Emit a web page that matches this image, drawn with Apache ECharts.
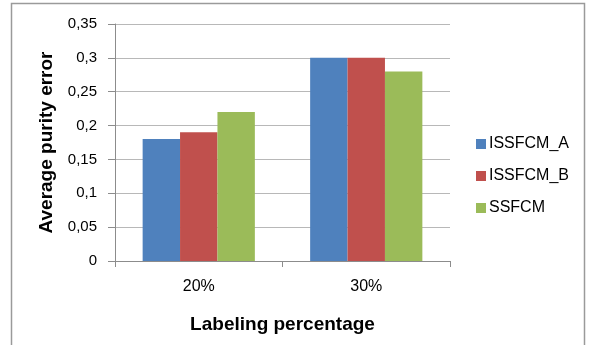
<!DOCTYPE html>
<html>
<head>
<meta charset="utf-8">
<script src="https://cdn.jsdelivr.net/npm/echarts@6/dist/echarts.min.js"></script>
<style>html,body{margin:0;padding:0;background:#fff;}#c{width:589px;height:345px;}</style>
</head>
<body>
<div id="c"></div>
<script>
var categories = ['20%', '30%'];
var seriesNames = ['ISSFCM_A', 'ISSFCM_B', 'SSFCM'];
var issfcmA = [0.18, 0.30];
var issfcmB = [0.19, 0.30];
var ssfcm = [0.22, 0.28];
var colors = ['#4F81BD', '#C0504D', '#9BBB59'];
var font = 'Liberation Sans';

var chart = echarts.init(document.getElementById('c'), null, {renderer: 'canvas'});
chart.setOption({
  animation: false,
  backgroundColor: '#fff',
  graphic: [{
    type: 'polyline',
    shape: {points: [[11.5, 360], [11.5, 3.5], [584.5, 3.5], [584.5, 360]]},
    style: {stroke: '#9a9a9a', lineWidth: 1.5, fill: null}
  }],
  grid: {left: 115, right: 139, top: 24, bottom: 84},
  legend: {
    orient: 'vertical',
    left: 476, top: 136,
    padding: 0,
    itemWidth: 10, itemHeight: 10, itemGap: 16,
    icon: 'rect',
    textStyle: {fontFamily: font, fontSize: 16, color: '#000', padding: [0, 0, 0, -2]},
    data: seriesNames
  },
  xAxis: {
    type: 'category',
    data: categories,
    name: 'Labeling percentage',
    nameLocation: 'middle',
    nameGap: 54,
    nameTextStyle: {fontFamily: font, fontSize: 19, fontWeight: 'bold', color: '#000'},
    axisLine: {lineStyle: {color: '#8c8c8c'}},
    axisTick: {show: true, length: 6, lineStyle: {color: '#8c8c8c'}},
    axisLabel: {fontFamily: font, fontSize: 16, color: '#000', margin: 18}
  },
  yAxis: {
    type: 'value',
    min: 0, max: 0.35, interval: 0.05,
    name: 'Average purity error',
    nameLocation: 'middle',
    nameGap: 59,
    nameTextStyle: {fontFamily: font, fontSize: 19, fontWeight: 'bold', color: '#000'},
    axisLine: {show: true, lineStyle: {color: '#8c8c8c'}},
    axisTick: {show: true, length: 7, lineStyle: {color: '#8c8c8c'}},
    axisLabel: {fontFamily: font, fontSize: 15, color: '#000', margin: 18,
      formatter: function (v) { return String(Math.round(v * 100) / 100).replace('.', ','); }},
    splitLine: {lineStyle: {color: '#b8b8b8'}}
  },
  series: [
    {name: seriesNames[0], type: 'bar', data: issfcmA, itemStyle: {color: colors[0]}, barGap: '0%', barCategoryGap: '33%'},
    {name: seriesNames[1], type: 'bar', data: issfcmB, itemStyle: {color: colors[1]}, barGap: '0%', barCategoryGap: '33%'},
    {name: seriesNames[2], type: 'bar', data: ssfcm, itemStyle: {color: colors[2]}, barGap: '0%', barCategoryGap: '33%'}
  ]
});
</script>
</body>
</html>
